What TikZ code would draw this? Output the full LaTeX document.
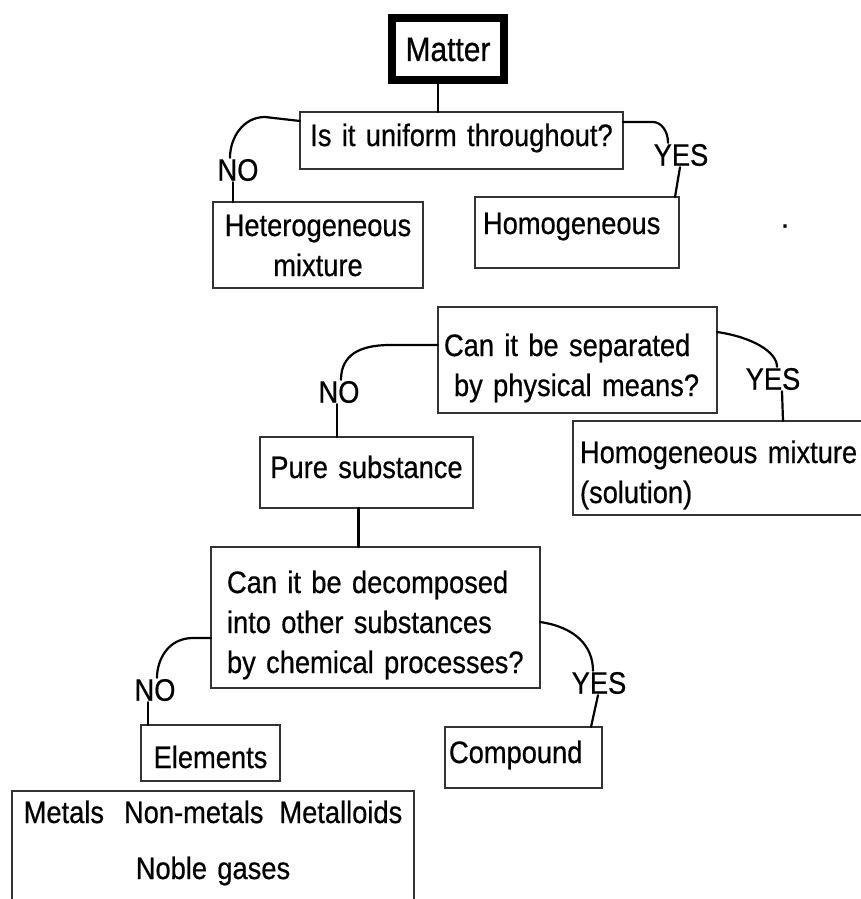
\documentclass[tikz,border=0pt]{standalone}
\usepackage{fontspec}
\setmainfont{Liberation Sans}[FakeStretch=0.88,FakeBold=0.6]
\tikzset{box/.style =
   {rectangle,
    draw=black!80,
    line width=1.3pt,
    anchor=north west,
    inner xsep=0pt,
    inner ysep=0pt,
    outer sep=0pt,
    font=\fontsize{31}{40}\selectfont}}
\tikzset{mainbox/.style =
   {box,
    draw=black,
    line width=8pt,
    font=\fontsize{34}{40}\selectfont}}
\tikzset{answer/.style =
   {inner sep=1pt,
    font=\fontsize{31}{40}\selectfont}}
\tikzset{link/.style = {draw, line width=2.2pt, line cap=round}}

\begin{document}
\begin{tikzpicture}[x=1pt,y=-1pt]
    \useasboundingbox (0,0) rectangle (861,899);

    \node [mainbox,
           align=center,
           text width=112pt,
           text height=43pt,
           text depth=19pt] (matter) at (392,18) {Matter};

    \node [box,
           align=center,
           text width=323pt,
           text height=34pt,
           text depth=23pt] (uniform) at (300,112) {Is it uniform throughout?};

    \node [box,
           align=center,
           text width=210pt,
           text height=34pt,
           text depth=52pt] (hetero) at (213,202) {Heterogeneous\\mixture};

    \node [box,
           align=left,
           inner xsep=8pt,
           text width=188pt,
           text height=37pt,
           text depth=34pt] (homog) at (475,197) {Homogeneous};

    \node [box,
           align=left,
           inner xsep=6pt,
           text width=267pt,
           text height=49pt,
           text depth=57pt] (separate) at (438,307)
    {Can it be separated\\\hspace*{10pt}by physical means?};

    \node [box,
           align=center,
           text width=213pt,
           text height=41pt,
           text depth=30pt] (pure) at (260,437) {Pure substance};

    \node [box,
           align=left,
           inner xsep=7pt,
           text width=300pt,
           text height=42pt,
           text depth=52pt] (solution) at (573,421)
    {Homogeneous mixture\\(solution)};

    \node [box,
           align=left,
           inner xsep=16pt,
           text width=297pt,
           text height=46pt,
           text depth=95pt] (decompose) at (211,547)
    {Can it be decomposed\\into other substances\\by chemical processes?};

    \node [box,
           align=center,
           text width=139pt,
           text height=43pt,
           text depth=13pt] (elements) at (141,725) {Elements};

    \node [box,
           align=left,
           inner xsep=4pt,
           text width=149pt,
           text height=36pt,
           text depth=25pt] (compound) at (445,727) {Compound};

    \node [box,
           align=center,
           text width=402pt,
           text height=32pt,
           text depth=150pt] (kinds) at (12,791)
    {Metals\hspace{20pt}Non-metals\hspace{16pt}Metalloids\\[16pt]Noble gases};

    \node [answer] (no1)  at (238,170) {NO};
    \node [answer] (yes1) at (681,155) {YES};
    \node [answer] (no2)  at (339,392) {NO};
    \node [answer] (yes2) at (773,379) {YES};
    \node [answer] (no3)  at (155,690) {NO};
    \node [answer] (yes3) at (599,683) {YES};
    \node [answer] (dot)  at (785,226) {.};

    \draw [link] ([xshift=-10pt]matter.south) -- ([xshift=-10pt]matter.south |- uniform.north);

    \draw [link] ([yshift=-9pt]uniform.north west) -- ++(-35,-4)
        .. controls +(-22,0) and +(0,-20) .. ([xshift=-8pt]no1.north);
    \draw [link] ([xshift=-5pt]no1.south) -- ([xshift=-5pt]no1.south |- hetero.north);

    \draw [link] ([yshift=-10pt]uniform.north east) -- ++(30,0)
        .. controls +(8,0) and +(0,-12) .. ([xshift=-13pt]yes1.north);
    \draw [link] ([xshift=-1pt]yes1.south) -- ([xshift=-6pt]yes1.south |- homog.north);

    \draw [link] ([yshift=-38pt]separate.north west) -- ++(-48,0)
        .. controls +(-30,0) and +(0,-25) .. ([xshift=2pt]no2.north);
    \draw [link] ([xshift=-2pt]no2.south) -- ([xshift=-2pt]no2.south |- pure.north);

    \draw [link] ([yshift=-25pt]separate.north east)
        .. controls +(35,5) and +(0,-15) .. ([xshift=4pt]yes2.north);
    \draw [link] ([xshift=9pt]yes2.south) -- ([xshift=10pt]yes2.south |- solution.north);

    \draw [link] ([xshift=-8pt]pure.south) -- ([xshift=-8pt]pure.south |- decompose.north);

    \draw [link] ([yshift=-91pt]decompose.north west) -- ++(-18,0)
        .. controls +(-25,0) and +(0,-18) .. ([xshift=2pt]no3.north);
    \draw [link] ([xshift=-7pt]no3.south) -- ([xshift=-7pt]no3.south |- elements.north);

    \draw [link] ([yshift=-75pt]decompose.north east)
        .. controls +(35,5) and +(0,-25) .. ([xshift=-6pt]yes3.north);
    \draw [link] ([xshift=-1pt]yes3.south) -- ([xshift=-8pt]yes3.south |- compound.north);

\end{tikzpicture}
\end{document}
